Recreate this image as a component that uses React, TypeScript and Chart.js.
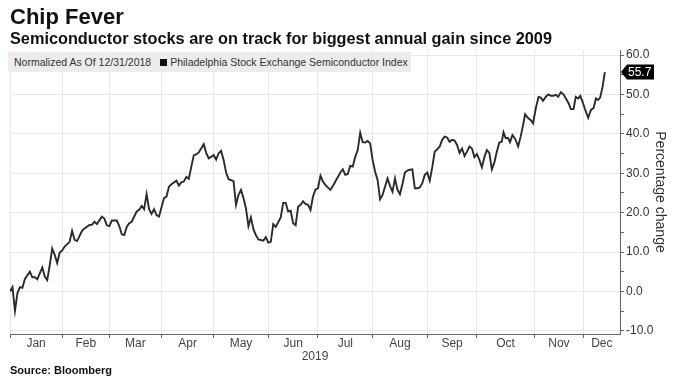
import React, { useEffect, useRef } from 'react';
import { Chart, registerables } from 'chart.js';

Chart.register(...registerables);

// Trading-day index (0 = 12/31/2018) and percentage change of the index
const tradingDays = [
  0, 1, 2, 3, 4, 5, 6, 8, 9, 10, 11, 13, 14, 15, 16, 17, 18, 19, 20, 21, 22, 24, 25, 26, 27, 29, 30, 32, 33, 34, 35,
  37, 38, 39, 40, 41, 43, 44, 45, 46, 47, 48, 49, 51, 52, 53, 54, 55, 56, 57, 58, 59, 60, 62, 63, 64, 65, 67, 68, 69,
  70, 71, 72, 73, 74, 75, 76, 78, 79, 80, 82, 83, 84, 85, 86, 87, 88, 90, 91, 92, 93, 94, 95, 96, 97, 98, 99, 100,
  102, 103, 104, 105, 106, 107, 109, 110, 111, 112, 113, 114, 115, 116, 117, 118, 119, 120, 121, 122, 123, 124, 125,
  126, 127, 129, 130, 131, 133, 134, 135, 136, 137, 138, 139, 140, 141, 142, 143, 144, 145, 146, 147, 148, 149, 150,
  152, 153, 154, 155, 156, 157, 158, 159, 160, 161, 162, 163, 164, 165, 166, 167, 168, 169, 170, 171, 172, 173, 174,
  175, 176, 177, 178, 179, 180, 181, 182, 183, 184, 185, 186, 187, 188, 189, 190, 191, 192, 193, 194, 195, 196, 197,
  198, 198.7, 199.6, 200.5, 201.3, 202.3, 203.4, 204.6, 205.6, 206.6, 207.4, 208.6, 209.7, 210.6, 211.7, 212.8,
  213.7, 214.6, 215.7, 216.7, 217.7, 218.8, 219.8, 220.7, 221.8, 222.9, 223.8, 224.9, 225.8, 226.9, 227.8, 228.8,
  229.6, 230.5, 231.5, 232.8, 233.9, 235, 235.9, 236.8, 237.6, 238.6, 239.5,
];

const pctChange = [
  0, 1.1, -4.9, -0.4, 1.1, 0.9, 3.2, 5.0, 3.6, 3.6, 3.1, 6.1, 3.8, 2.9, 6.7, 10.9, 9.3, 7.2, 9.8, 10.4, 11.4, 12.6,
  15.4, 13.1, 12.8, 15.4, 16.0, 16.9, 16.9, 17.7, 17.1,
  19.0, 18.5, 16.8, 16.6, 18.0, 18.0, 16.6, 14.5, 14.3, 16.4, 17.3, 17.7, 20.3, 20.7, 21.7, 20.9, 24.7, 20.9, 19.7,
  20.9, 19.4, 19.0, 23.7, 24.1, 26.6, 27.2, 28.1, 26.9, 27.7,
  27.9, 29.1, 28.6, 31.7, 34.6, 34.8, 35.3, 37.4, 35.2, 33.8, 34.6, 33.5, 35.1, 35.7, 33.4, 30.2, 28.5, 28.0, 22.0,
  24.5, 25.8, 23.7, 21.1, 16.6, 18.8, 15.8, 14.3, 13.2,
  12.9, 13.8, 12.4, 12.6, 17.1, 16.4, 18.8, 22.5, 22.5, 20.3, 20.5, 17.3, 16.8, 21.5, 22.0, 22.9, 22.2, 22.0, 20.7,
  24.1, 25.9, 26.2, 29.4,
  27.9, 27.0, 25.8, 26.8, 27.9, 30.2, 31.0, 29.6, 29.8, 31.9, 31.7, 34.2, 35.9, 40.3, 37.9, 37.8, 38.2, 37.6, 33.4,
  30.4, 28.3, 23.4, 24.5,
  28.7, 26.8, 25.3, 28.7, 25.8, 24.7, 27.3, 30.2, 30.7, 30.9, 31.0, 26.2, 26.2, 26.4, 27.5, 29.6, 30.2, 28.1, 31.5,
  35.5, 36.1, 36.8, 38.5,
  39.3, 39.1, 38.0, 38.5, 38.3, 37.2, 35.2, 36.3, 34.4, 35.5, 36.8, 36.3, 34.1, 34.9, 33.4, 31.5, 34.1, 35.9, 35.2,
  31.0, 32.7, 35.5, 37.8,
  38.0, 40.4, 38.9, 39.0, 37.9, 39.7, 38.7, 36.8, 39.3, 42.3, 45.0, 44.0, 43.5, 42.7, 46.5, 49.4,
  49.2, 48.4, 49.4, 50.0, 49.7, 49.7, 49.9, 49.4, 50.6, 50.0, 49.0, 47.8, 46.3, 46.3, 49.4, 49.0,
  49.7, 48.2, 46.3, 44.1, 46.1, 46.6, 49.0, 48.6, 49.2, 52.0, 55.7,
];

const monthLabels = ['Jan', 'Feb', 'Mar', 'Apr', 'May', 'Jun', 'Jul', 'Aug', 'Sep', 'Oct', 'Nov', 'Dec'];
// first trading-day index of each month (month boundaries on the axis)
const monthStarts = [0, 21, 40, 61, 82, 104, 124, 146, 168, 188, 211, 231];
const axisEnd = 245.6;
const yTickValues = [-10, -5, 0, 5, 10, 15, 20, 25, 30, 35, 40, 45, 50, 55, 60];
const yMin = -10.8;
const yMax = 61.3;

const FONT = "'Liberation Sans', Arial, sans-serif";

const lastValuePlugin = {
  id: 'lastValueTag',
  afterDraw(chart: any) {
    const data = chart.data.datasets[0].data as { x: number; y: number }[];
    const last = data[data.length - 1];
    const y = chart.scales.y.getPixelForValue(last.y);
    const x = chart.chartArea.right + 1;
    const ctx = chart.ctx as CanvasRenderingContext2D;
    ctx.save();
    ctx.fillStyle = '#000';
    ctx.beginPath();
    ctx.moveTo(x, y);
    ctx.lineTo(x + 6, y - 7.5);
    ctx.lineTo(x + 33, y - 7.5);
    ctx.lineTo(x + 33, y + 7.5);
    ctx.lineTo(x + 6, y + 7.5);
    ctx.closePath();
    ctx.fill();
    ctx.fillStyle = '#fff';
    ctx.font = `12px ${FONT}`;
    ctx.textBaseline = 'middle';
    ctx.textAlign = 'left';
    ctx.fillText(last.y.toFixed(1), x + 7, y + 0.5);
    ctx.restore();
  },
};

export default function App() {
  const canvasRef = useRef<HTMLCanvasElement | null>(null);

  useEffect(() => {
    if (!canvasRef.current) return;
    const mids = monthStarts.map((s, i) => (s + (i + 1 < monthStarts.length ? monthStarts[i + 1] : axisEnd)) / 2);
    const chart = new Chart(canvasRef.current, {
      type: 'line',
      data: {
        datasets: [
          {
            label: 'Philadelphia Stock Exchange Semiconductor Index',
            data: tradingDays.map((d, i) => ({ x: d, y: pctChange[i] })),
            borderColor: '#2a2a2a',
            borderWidth: 1.9,
            pointRadius: 0,
            tension: 0,
            fill: false,
            xAxisID: 'x',
            yAxisID: 'y',
          },
        ],
      },
      options: {
        responsive: false,
        animation: false,
        devicePixelRatio: 1,
        layout: { padding: { left: 10, top: 50, right: 0, bottom: 20 } },
        plugins: { legend: { display: false }, tooltip: { enabled: false }, title: { display: false } },
        scales: {
          x: {
            type: 'linear',
            position: 'bottom',
            min: 0,
            max: axisEnd,
            weight: 0,
            afterBuildTicks: (s: any) => {
              s.ticks = monthStarts.map((v) => ({ value: v }));
            },
            ticks: { display: false },
            grid: { color: '#e8e8e8', tickColor: '#666', tickLength: 4, drawTicks: true },
            border: { display: true, color: '#666', width: 1 },
            afterFit: (s: any) => {
              s.height = 2;
            },
          },
          x2: {
            type: 'linear',
            position: 'bottom',
            min: 0,
            max: axisEnd,
            weight: 1,
            afterBuildTicks: (s: any) => {
              s.ticks = mids.map((v) => ({ value: v }));
            },
            ticks: {
              autoSkip: false,
              maxRotation: 0,
              padding: 0,
              color: '#444',
              font: { size: 12, family: FONT },
              callback: (_v: any, i: number) => monthLabels[i],
            },
            grid: { display: false, drawTicks: false },
            border: { display: false },
            title: { display: true, text: '2019', color: '#444', font: { size: 12, family: FONT }, padding: 0 },
            afterFit: (s: any) => {
              s.height = 28;
            },
          },
          y: {
            type: 'linear',
            position: 'right',
            min: yMin,
            max: yMax,
            afterBuildTicks: (s: any) => {
              s.ticks = yTickValues.map((v) => ({ value: v }));
            },
            ticks: {
              autoSkip: false,
              padding: 2,
              color: '#333',
              font: { size: 12, family: FONT },
              callback: (v: any) => (Number(v) % 10 === 0 ? Number(v).toFixed(1) : ''),
            },
            grid: {
              color: (c: any) => (c.tick && c.tick.value % 10 === 0 ? '#e8e8e8' : 'rgba(0,0,0,0)'),
              tickColor: '#666',
              tickLength: 4,
              drawTicks: true,
            },
            border: { display: true, color: '#666', width: 1 },
            title: {
              display: true,
              text: 'Percentage change',
              color: '#333',
              font: { size: 14, family: FONT },
              padding: { top: 12, bottom: 12 },
            },
            afterFit: (s: any) => {
              s.width = 60;
            },
          },
        },
      },
      plugins: [lastValuePlugin],
    } as any);
    return () => chart.destroy();
  }, []);

  return (
    <div style={{ position: 'absolute', left: 0, top: 0, width: 680, height: 384, background: '#fff', fontFamily: FONT }}>
      <canvas ref={canvasRef} width={680} height={384} style={{ position: 'absolute', left: 0, top: 0 }} />
      <div style={{ position: 'absolute', left: 10, top: 6, fontSize: 22, lineHeight: '22px', fontWeight: 'bold', color: '#111' }}>
        Chip Fever
      </div>
      <div style={{ position: 'absolute', left: 10, top: 30, fontSize: 16.3, lineHeight: '16px', fontWeight: 'bold', color: '#111', whiteSpace: 'nowrap' }}>
        Semiconductor stocks are on track for biggest annual gain since 2009
      </div>
      <div
        style={{
          position: 'absolute',
          left: 8,
          top: 52,
          width: 403,
          height: 20,
          background: '#ececec',
          fontSize: 10.5,
          lineHeight: '20px',
          color: '#333',
          whiteSpace: 'nowrap',
          paddingLeft: 6,
          boxSizing: 'border-box',
        }}
      >
        Normalized As Of 12/31/2018
        <span style={{ display: 'inline-block', width: 7, height: 7, background: '#111', marginLeft: 9, marginRight: 3 }} />
        Philadelphia Stock Exchange Semiconductor Index
      </div>
      <div style={{ position: 'absolute', left: 10, top: 365, fontSize: 11, lineHeight: '11px', fontWeight: 'bold', color: '#111' }}>
        Source: Bloomberg
      </div>
    </div>
  );
}
